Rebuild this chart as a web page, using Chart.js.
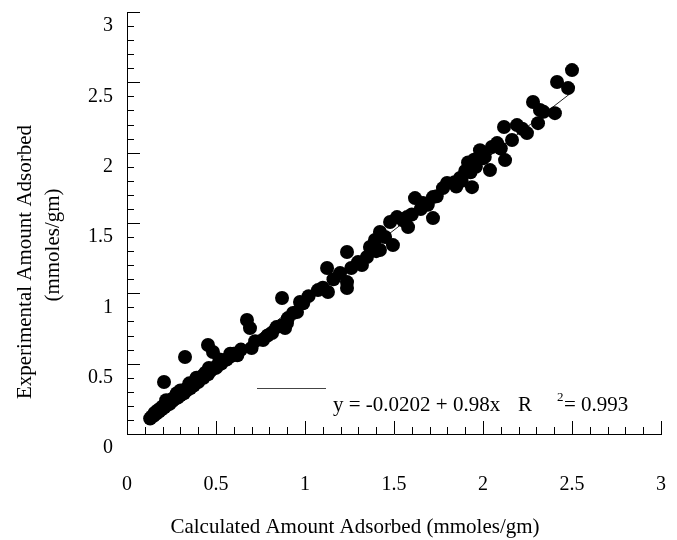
<!DOCTYPE html>
<html>
<head>
<meta charset="utf-8">
<script src="https://cdn.jsdelivr.net/npm/chart.js@4.4.0/dist/chart.umd.min.js"></script>
<style>
  html, body { margin: 0; background: #fff; }
</style>
</head>
<body>
<canvas id="c" width="677" height="540"></canvas>
<script>
// calculated vs experimental amount adsorbed (mmoles/gm)
const calcX = [
  0.13, 0.14, 0.15, 0.155, 0.165, 0.17, 0.18, 0.185, 0.195, 0.20,
  0.208, 0.21, 0.215, 0.22, 0.225, 0.23, 0.24, 0.245, 0.255, 0.26,
  0.27, 0.275, 0.28, 0.285, 0.29, 0.30, 0.30, 0.31, 0.32, 0.325,
  0.326, 0.335, 0.345, 0.35, 0.355, 0.365, 0.375, 0.385, 0.39, 0.40,
  0.41, 0.42, 0.43, 0.44, 0.455, 0.455, 0.46, 0.47, 0.48, 0.483,
  0.50, 0.51, 0.52, 0.53, 0.545, 0.56, 0.58, 0.58, 0.60, 0.62,
  0.64, 0.674, 0.691, 0.70, 0.72, 0.764, 0.79, 0.815, 0.84, 0.871,
  0.876, 0.888, 0.899, 0.904, 0.933, 0.955, 0.972, 0.99, 1.02, 1.073,
  1.10, 1.124, 1.129, 1.16, 1.197, 1.236, 1.236, 1.236, 1.26, 1.298,
  1.32, 1.348, 1.365, 1.393, 1.40, 1.421, 1.421, 1.45, 1.478, 1.494,
  1.517, 1.55, 1.573, 1.579, 1.60, 1.618, 1.65, 1.663, 1.69, 1.719,
  1.719, 1.74, 1.775, 1.798, 1.84, 1.85, 1.871, 1.88, 1.90, 1.916,
  1.93, 1.938, 1.95, 1.96, 1.983, 2.00, 2.01, 2.039, 2.05, 2.079,
  2.10, 2.118, 2.124, 2.163, 2.191, 2.22, 2.247, 2.281, 2.309, 2.32,
  2.34, 2.404, 2.416, 2.478, 2.50
];
const expY = [
  0.11, 0.125, 0.13, 0.15, 0.145, 0.165, 0.16, 0.18, 0.175, 0.195,
  0.37, 0.19, 0.21, 0.24, 0.205, 0.225, 0.215, 0.24, 0.235, 0.255,
  0.25, 0.27, 0.29, 0.26, 0.285, 0.275, 0.31, 0.30, 0.29, 0.315,
  0.547, 0.31, 0.335, 0.36, 0.325, 0.355, 0.345, 0.375, 0.40, 0.37,
  0.395, 0.41, 0.40, 0.435, 0.425, 0.633, 0.47, 0.45, 0.465, 0.583,
  0.47, 0.49, 0.53, 0.50, 0.525, 0.53, 0.55, 0.57, 0.57, 0.56,
  0.60, 0.81, 0.753, 0.611, 0.66, 0.668, 0.70, 0.718, 0.76, 0.967,
  0.775, 0.753, 0.789, 0.824, 0.86, 0.867, 0.938, 0.93, 0.98, 1.023,
  1.04, 1.18, 1.009, 1.10, 1.144, 1.08, 1.038, 1.294, 1.18, 1.222,
  1.201, 1.258, 1.329, 1.379, 1.30, 1.436, 1.308, 1.40, 1.507, 1.343,
  1.542, 1.52, 1.542, 1.471, 1.56, 1.677, 1.60, 1.642, 1.63, 1.684,
  1.535, 1.69, 1.748, 1.784, 1.79, 1.76, 1.82, 1.80, 1.87, 1.93,
  1.86, 1.755, 1.95, 1.90, 2.018, 1.96, 1.97, 1.876, 2.04, 2.068,
  2.03, 2.182, 1.947, 2.09, 2.196, 2.17, 2.139, 2.36, 2.21, 2.303,
  2.29, 2.281, 2.502, 2.459, 2.587
];
// ends of the fitted line y = -0.0202 + 0.98x
const fitX = [0.13, 2.50];
const fitY = [0.107, 2.43];

const xTicks = [0, 0.5, 1, 1.5, 2, 2.5, 3];
const yTicks = [0, 0.5, 1, 1.5, 2, 2.5, 3];

const xTitle = "Calculated Amount Adsorbed (mmoles/gm)";
const yTitle = ["Experimental Amount Adsorbed", "(mmoles/gm)"];
const eqMain = "y = -0.0202 + 0.98x";
const eqR = "R";
const eqSup = "2";
const eqVal = "= 0.993";

const SERIF = "'Liberation Serif', 'Times New Roman', serif";

// inward tick marks every 0.1, axis titles and the fit caption
const decor = {
  id: "decor",
  beforeDatasetsDraw(chart) {
    const { ctx, chartArea: ca, scales: { x, y } } = chart;
    ctx.save();
    ctx.strokeStyle = "#000";
    ctx.lineWidth = 1;
    ctx.beginPath();
    for (let i = 1; i <= 30; i++) {
      const len = i % 5 === 0 ? 13 : 7;
      const px = Math.round(x.getPixelForValue(i / 10)) + 0.5;
      ctx.moveTo(px, ca.bottom);
      ctx.lineTo(px, ca.bottom - len);
      const py = Math.round(y.getPixelForValue(i / 10)) + 0.5;
      ctx.moveTo(ca.left, py);
      ctx.lineTo(ca.left + len, py);
    }
    ctx.stroke();
    ctx.restore();
  },
  afterDraw(chart) {
    const { ctx } = chart;
    ctx.save();
    ctx.fillStyle = "#000";
    ctx.font = `21px ${SERIF}`;
    ctx.textAlign = "center";
    ctx.textBaseline = "middle";
    ctx.fillText(xTitle, 355, 527);

    ctx.save();
    ctx.translate(25, 262);
    ctx.rotate(-Math.PI / 2);
    ctx.fillText(yTitle[0], 0, 0);
    ctx.restore();
    ctx.save();
    ctx.translate(53, 245);
    ctx.rotate(-Math.PI / 2);
    ctx.fillText(yTitle[1], 0, 0);
    ctx.restore();

    // legend stroke for the fit line
    ctx.strokeStyle = "#444";
    ctx.lineWidth = 1;
    ctx.beginPath();
    ctx.moveTo(257, 388.5);
    ctx.lineTo(326, 388.5);
    ctx.stroke();

    ctx.textAlign = "left";
    ctx.fillText(eqMain, 333, 405);
    ctx.fillText(eqR, 518, 405);
    ctx.fillText(eqVal, 564, 405);
    ctx.font = `13px ${SERIF}`;
    ctx.fillText(eqSup, 557, 398);
    ctx.restore();
  }
};

const tickFont = { family: SERIF, size: 20 };

// keep the plot box fixed: no extra room for overhanging tick labels
function noPad(s) {
  s.paddingLeft = 0; s.paddingRight = 0; s.paddingTop = 0; s.paddingBottom = 0;
}

new Chart(document.getElementById("c"), {
  type: "scatter",
  data: {
    datasets: [
      {
        label: "data",
        data: calcX.map((v, i) => ({ x: v, y: expY[i] })),
        backgroundColor: "#000",
        borderWidth: 0,
        pointRadius: 7,
        pointHoverRadius: 7,
      },
      {
        label: "fit",
        type: "line",
        data: fitX.map((v, i) => ({ x: v, y: fitY[i] })),
        borderColor: "#222",
        borderWidth: 1,
        pointRadius: 0,
        fill: false,
      },
    ],
  },
  options: {
    responsive: false,
    animation: false,
    layout: { padding: { left: 0, top: 12, right: 16, bottom: 0 } },
    plugins: { legend: { display: false }, tooltip: { enabled: false } },
    scales: {
      x: {
        type: "linear",
        min: 0, max: 3,
        afterBuildTicks: (s) => { s.ticks = xTicks.map((v) => ({ value: v })); },
        afterFit: (s) => { s.height = 106; noPad(s); },
        ticks: { font: tickFont, color: "#000", padding: 39, maxRotation: 0, autoSkip: false, callback: (v) => String(v) },
        grid: { display: false, drawTicks: false },
        border: { display: true, color: "#000", width: 1 },
      },
      y: {
        type: "linear",
        min: 0, max: 3,
        afterBuildTicks: (s) => { s.ticks = yTicks.map((v) => ({ value: v })); },
        afterFit: (s) => { s.width = 127; noPad(s); },
        ticks: { font: tickFont, color: "#000", padding: 14, labelOffset: 14, autoSkip: false, callback: (v) => String(v) },
        grid: { display: false, drawTicks: false },
        border: { display: true, color: "#000", width: 1 },
      },
    },
  },
  plugins: [decor],
});
</script>
</body>
</html>
